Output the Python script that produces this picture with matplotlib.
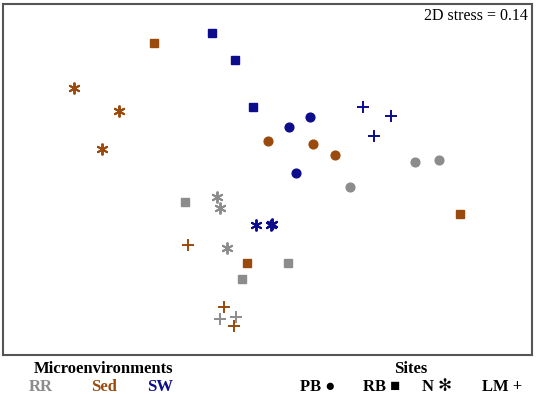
import matplotlib
matplotlib.use("Agg")
import matplotlib.pyplot as plt

# NMDS coordinates (arbitrary units)
SED_SQ = [(-1.14, 1.47), (1.92, -0.24), (-0.21, -0.73)]
SED_AST = [(-1.94, 1.02), (-1.49, 0.79), (-1.66, 0.41)]
SED_CIR = [(0.00, 0.49), (0.45, 0.46), (0.67, 0.35)]
SED_PLUS = [(-0.80, -0.55), (-0.44, -1.17), (-0.34, -1.36)]

SW_SQ = [(-0.56, 1.57), (-0.33, 1.30), (-0.15, 0.83)]
SW_CIR = [(0.21, 0.63), (0.42, 0.73), (0.28, 0.17)]
SW_PLUS = [(0.95, 0.83), (1.23, 0.74), (1.06, 0.54)]
SW_AST = [(-0.12, -0.35), (0.03, -0.35), (0.04, -0.34)]

RR_CIR = [(1.47, 0.28), (1.71, 0.30), (0.82, 0.03)]
RR_SQ = [(-0.83, -0.12), (0.20, -0.73), (-0.26, -0.89)]
RR_AST = [(-0.51, -0.07), (-0.48, -0.18), (-0.41, -0.58)]
RR_PLUS = [(-0.48, -1.29), (-0.32, -1.27)]

ENV_LABELS = ["RR", "Sed", "SW"]
SITE_LABELS = ["PB \u25cf", "RB \u25a0", "N \u273b", "LM +"]
STRESS = 0.14

C_RR = "#8c8c8c"
C_SED = "#9a4a0c"
C_SW = "#0c0c8c"

groups = [
    (RR_CIR, C_RR, "o"), (RR_SQ, C_RR, "s"), (RR_AST, C_RR, "ast"), (RR_PLUS, C_RR, "+"),
    (SED_CIR, C_SED, "o"), (SED_SQ, C_SED, "s"), (SED_AST, C_SED, "ast"), (SED_PLUS, C_SED, "+"),
    (SW_CIR, C_SW, "o"), (SW_SQ, C_SW, "s"), (SW_AST, C_SW, "ast"), (SW_PLUS, C_SW, "+"),
]

fig = plt.figure(figsize=(5.36, 3.94), dpi=100)
ax = fig.add_axes([3 / 536, 39.5 / 394, 529 / 536, 350.5 / 394])

for pts, col, mk in groups:
    xs = [p[0] for p in pts]
    ys = [p[1] for p in pts]
    if mk == "o":
        ax.plot(xs, ys, "o", color=col, ms=6.3, mec=col, ls="none")
    elif mk == "s":
        ax.plot(xs, ys, "s", color=col, ms=6.0, mec=col, ls="none")
    elif mk == "ast":
        ax.plot(xs, ys, marker=(6, 2, 0), color=col, ms=8.5, mew=1.4, ls="none")
    else:
        ax.plot(xs, ys, "+", color=col, ms=8.5, mew=1.4, ls="none")

ax.set_xlim(-2.65, 2.64)
ax.set_ylim(-1.645, 1.86)
ax.set_xticks([])
ax.set_yticks([])
for s in ax.spines.values():
    s.set_color("#555555")
    s.set_linewidth(1.5)

serif = ["Liberation Serif", "DejaVu Sans"]
ax.text(0.993, 0.988, f"2D stress = {STRESS}", transform=ax.transAxes, ha="right", va="top",
        fontsize=11.5, family=serif)

fig.text(104 / 536, 1 - 369 / 394, "Microenvironments", ha="center", va="center",
         fontsize=12, fontweight="bold", family=serif)
for lab, col, xc in zip(ENV_LABELS, [C_RR, C_SED, C_SW], [41, 104, 160]):
    fig.text(xc / 536, 1 - 387 / 394, lab, ha="center", va="center", fontsize=12,
             fontweight="bold", family=serif, color=col)

fig.text(411 / 536, 1 - 369 / 394, "Sites", ha="center", va="center",
         fontsize=12, fontweight="bold", family=serif)
for lab, xc in zip(SITE_LABELS, [318, 382, 437, 502]):
    fig.text(xc / 536, 1 - 387 / 394, lab, ha="center", va="center", fontsize=12,
             fontweight="bold", family=serif)

fig.savefig("out.png", dpi=100)
